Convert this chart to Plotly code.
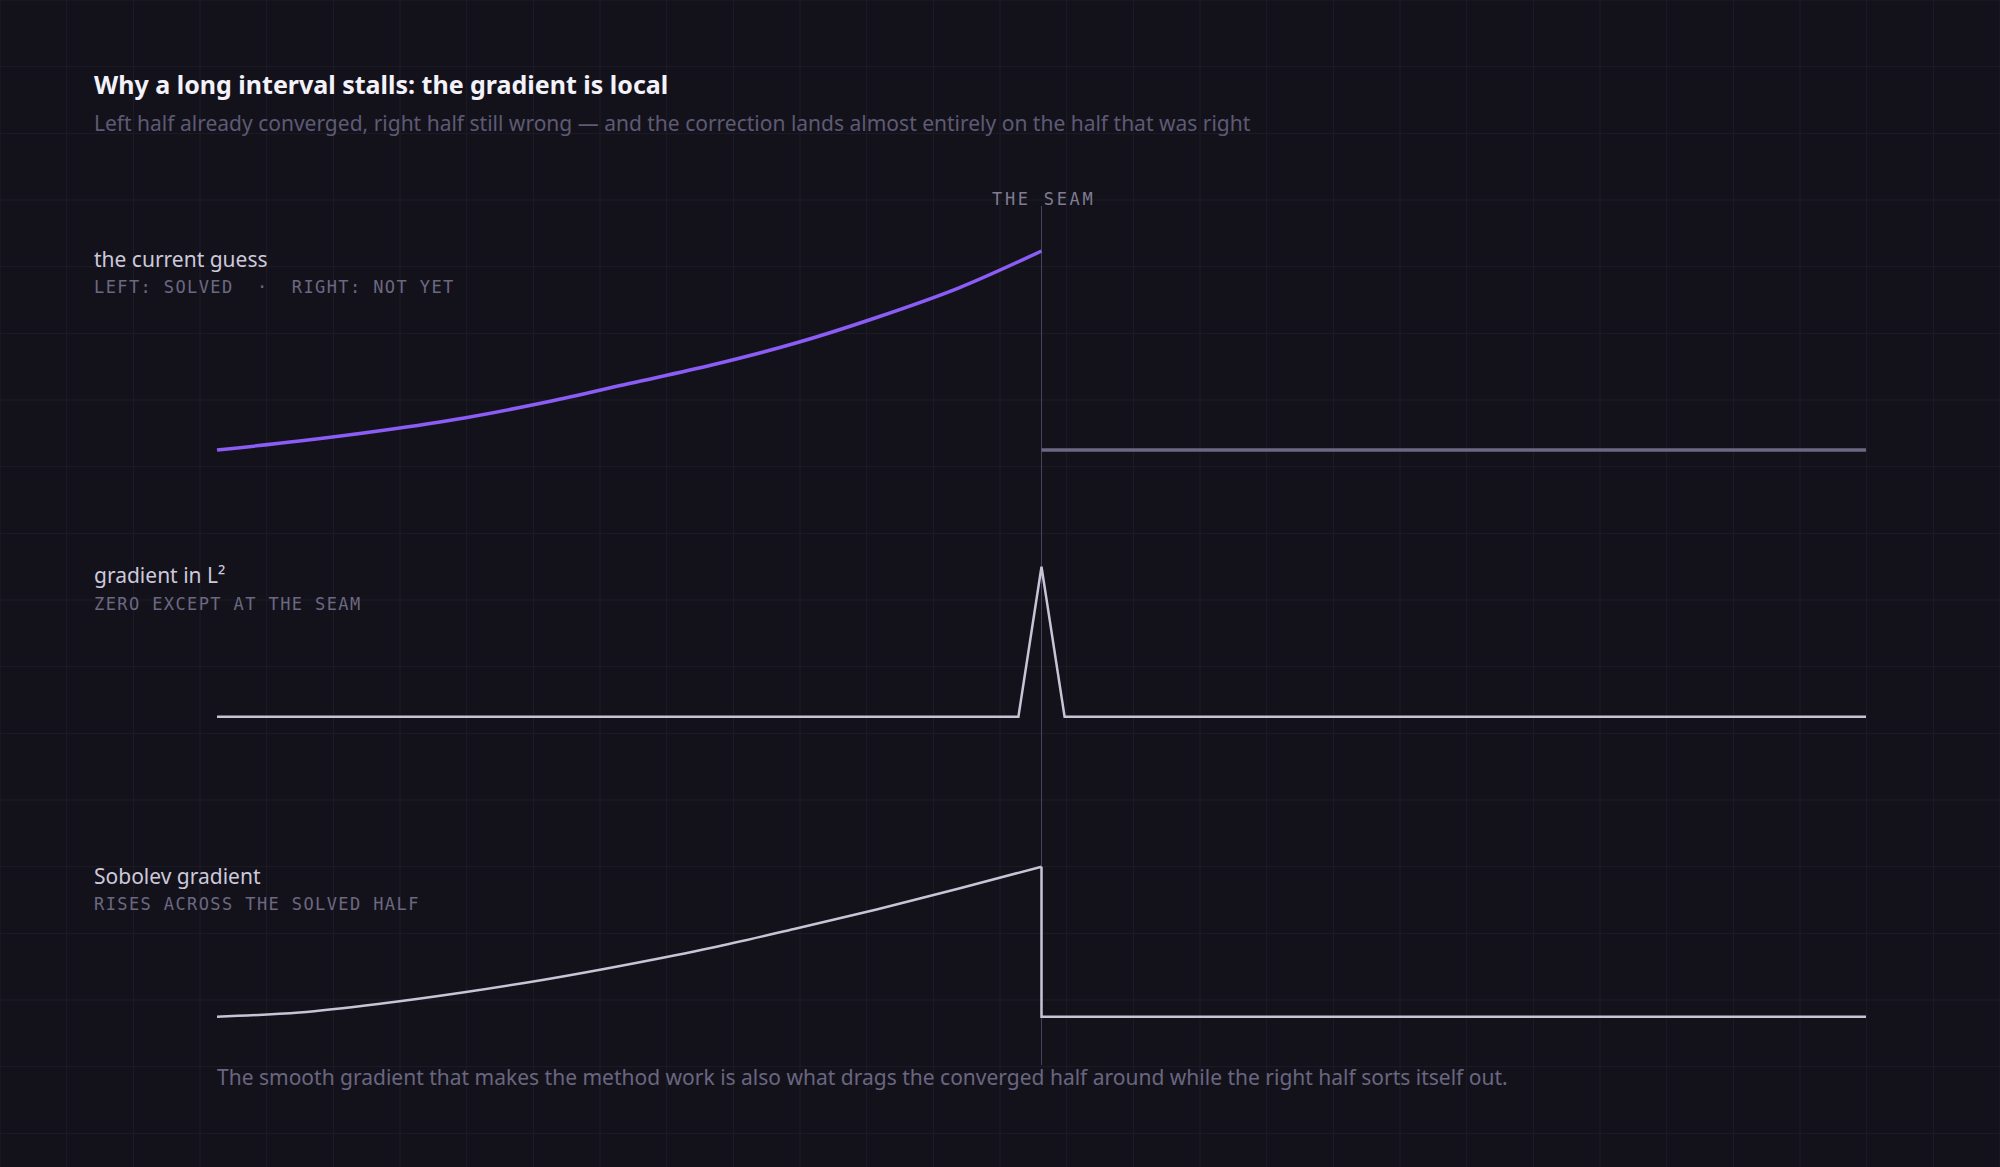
import plotly.graph_objects as go

W, H = 2000, 1167

# ---------------- data ----------------
x_left = [0.0, 0.05, 0.10, 0.15, 0.20, 0.25, 0.30, 0.35, 0.40, 0.45, 0.50]
guess_left = [0.0, 0.045, 0.098, 0.161, 0.241, 0.334, 0.427, 0.535, 0.666, 0.815, 1.0]
guess_right_x = [0.5, 1.0]
guess_right = [0.0, 0.0]

l2_x = [0.0, 0.486, 0.5, 0.514, 1.0]
l2_y = [0.0, 0.0, 1.0, 0.0, 0.0]

sob_left = [0.0, 0.028, 0.088, 0.163, 0.25, 0.35, 0.46, 0.585, 0.715, 0.855, 1.0]
sob_right_x = [0.5, 0.5, 1.0]
sob_right_y = [1.0, 0.0, 0.0]

seam_x = 0.5

panel_titles = ["the current guess", "gradient in L²", "Sobolev gradient"]
panel_notes = ["LEFT: SOLVED\u00a0\u00a0·\u00a0\u00a0RIGHT: NOT YET",
               "ZERO EXCEPT AT THE SEAM",
               "RISES ACROSS THE SOLVED HALF"]

title = "Why a long interval stalls: the gradient is local"
subtitle = ("Left half already converged, right half still wrong — and the correction "
            "lands almost entirely on the half that was right")
caption = ("The smooth gradient that makes the method work is also what drags the "
           "converged half around while the right half sorts itself out.")

# ---------------- style ----------------
BG = "#13121b"
GRID = "#1d1c28"
PURPLE = "#8b5cf6"
GRAY = "#6c6883"
LINE = "#c8c4d6"
SANS = "Noto Sans"
MONO = "DejaVu Sans Mono"


def px(xp):
    return xp / W


def py(yp):
    return 1 - yp / H


# plotting area (pixels)
X0, X1 = 217, 1866          # data x 0 .. 1
pad = 0.02
xdom = [px(X0 - pad * (X1 - X0)), px(X1 + pad * (X1 - X0))]
xr = [-pad, 1 + pad]

# panel vertical placements: (pixel of value 0, pixel of value 1)
panels = [(450, 251), (716.7, 566.7), (1016.7, 866.7)]

fig = go.Figure()

axes_layout = {}
for i, (p0, p1) in enumerate(panels):
    scale = p0 - p1
    top_px, bot_px = p1 - 20, p0 + 20
    lo = (p0 - bot_px) / scale
    hi = (p0 - top_px) / scale
    sfx = "" if i == 0 else str(i + 1)
    axes_layout["xaxis" + sfx] = dict(domain=xdom, range=xr, visible=False,
                                      showgrid=False, zeroline=False, fixedrange=True)
    axes_layout["yaxis" + sfx] = dict(domain=[py(bot_px), py(top_px)], range=[lo, hi],
                                      visible=False, showgrid=False, zeroline=False,
                                      anchor="x" + sfx, fixedrange=True)

# panel 1: current guess
fig.add_trace(go.Scatter(x=x_left, y=guess_left, mode="lines",
                         line=dict(color=PURPLE, width=3.5, shape="spline"),
                         xaxis="x", yaxis="y", hoverinfo="skip"))
fig.add_trace(go.Scatter(x=guess_right_x, y=guess_right, mode="lines",
                         line=dict(color=GRAY, width=3.5),
                         xaxis="x", yaxis="y", hoverinfo="skip"))
# panel 2: L2 gradient
fig.add_trace(go.Scatter(x=l2_x, y=l2_y, mode="lines",
                         line=dict(color=LINE, width=2.5),
                         xaxis="x2", yaxis="y2", hoverinfo="skip"))
# panel 3: Sobolev gradient (smooth left part, sharp drop at the seam)
fig.add_trace(go.Scatter(x=x_left, y=sob_left, mode="lines",
                         line=dict(color=LINE, width=2.5, shape="spline"),
                         xaxis="x3", yaxis="y3", hoverinfo="skip"))
fig.add_trace(go.Scatter(x=sob_right_x, y=sob_right_y, mode="lines",
                         line=dict(color=LINE, width=2.5),
                         xaxis="x3", yaxis="y3", hoverinfo="skip"))

# background grid
shapes = []
step = W / 30
k = 0
while k * step <= W + 1:
    shapes.append(dict(type="line", xref="paper", yref="paper",
                       x0=px(k * step), x1=px(k * step), y0=0, y1=1,
                       line=dict(color=GRID, width=1), layer="below"))
    k += 1
k = 0
while k * step <= H + 1:
    shapes.append(dict(type="line", xref="paper", yref="paper",
                       x0=0, x1=1, y0=py(k * step), y1=py(k * step),
                       line=dict(color=GRID, width=1), layer="below"))
    k += 1

# seam line
shapes.append(dict(type="line", xref="x", yref="paper", x0=seam_x, x1=seam_x,
                   y0=py(1065), y1=py(206), line=dict(color="#46435b", width=1),
                   layer="below"))

annotations = []


def ann(text, xp, yp, size, color, family=SANS, xanchor="left", weight=None):
    f = dict(family=family, size=size, color=color)
    if weight:
        f["weight"] = weight
    annotations.append(dict(text=text, x=px(xp), y=py(yp), xref="paper", yref="paper",
                            xanchor=xanchor, yanchor="middle", showarrow=False,
                            font=f))


ann(title, 92, 84, 25, "#f3f1f9", weight=700)
ann(subtitle, 92, 123, 21, "#5e5a74")
ann('<span style="letter-spacing:2.7px">THE SEAM</span>', 1043, 199, 17, "#807c93",
    family=MONO, xanchor="center")

label_y = [(259, 287), (575, 604), (876, 904)]
for (ty, ny), t, n in zip(label_y, panel_titles, panel_notes):
    ann(t, 92, ty, 21, "#cdc9db")
    ann('<span style="letter-spacing:1.4px">' + n + '</span>', 92, ny, 17, "#6c6882",
        family=MONO)

ann(caption, 215, 1077, 21, "#6a6680")

fig.update_layout(
    width=W, height=H,
    margin=dict(l=0, r=0, t=0, b=0),
    paper_bgcolor=BG, plot_bgcolor="rgba(0,0,0,0)",
    showlegend=False,
    shapes=shapes,
    annotations=annotations,
    **axes_layout,
)

fig.write_html("out.html", config={"displayModeBar": False},
               post_script="document.body.style.margin='0';"
                           "document.body.style.background='#13121b';")
